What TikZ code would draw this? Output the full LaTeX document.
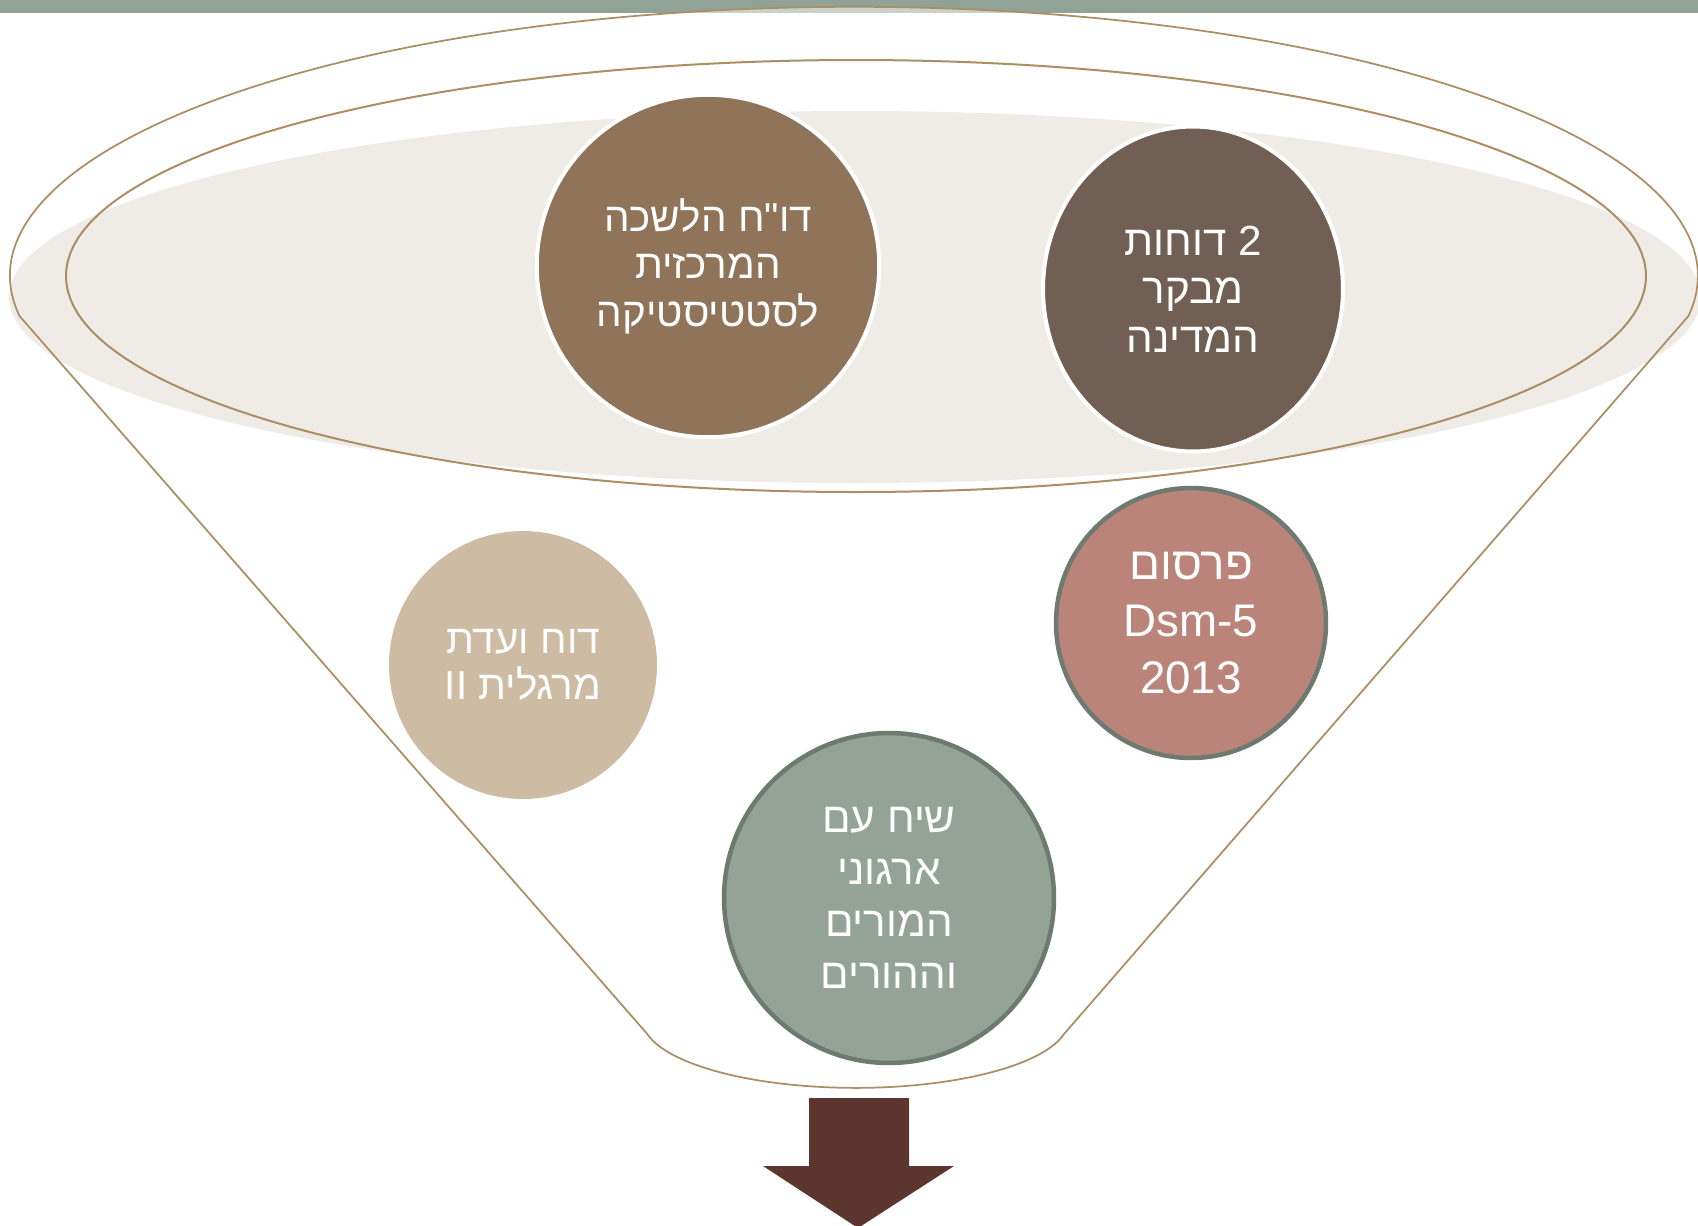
\documentclass[tikz,border=0pt]{standalone}
\usepackage{fontspec}
\setmainfont{Liberation Sans}
\newfontfamily\hebfont[Script=Hebrew]{Liberation Sans}
\TeXXeTstate=1
\usetikzlibrary{shapes.geometric}

\definecolor{barGreen}{HTML}{91A396}
\definecolor{funnelLine}{HTML}{AD8E64}
\definecolor{lipFill}{HTML}{EFECE7}
\definecolor{brownA}{HTML}{8F7459}
\definecolor{brownB}{HTML}{725F53}
\definecolor{rosePink}{HTML}{BA847A}
\definecolor{sandTan}{HTML}{CEBBA3}
\definecolor{sageGreen}{HTML}{93A398}
\definecolor{sageRim}{HTML}{6D7A6F}
\definecolor{arrowBrown}{HTML}{5C352F}

\begin{document}
\begin{tikzpicture}[x=0.02cm, y=0.02cm,
    bubble/.style={circle, inner sep=0pt, text=white, align=center},
    whiterim/.style={draw=white, line width=0.8mm},
    sagerim/.style={draw=sageRim, line width=0.9mm},
    lbl/.style 2 args={font=\hebfont\fontsize{#1}{#2}\selectfont}]
			%%%%% START %%%%%
			\useasboundingbox (0, 0) rectangle (1698, -1225);
			
			\fill[barGreen] (0, 0) rectangle (1698, -13);
			
			% funnel body
			\fill[white, fill opacity=0.5] (19.5, -316) arc[start angle=188.6, end angle=-8.6, x radius=844, y radius=269]
				-- (1064, -1034) arc[start angle=-12, end angle=-168, x radius=213, y radius=68] -- cycle;
			\fill[lipFill] (855, -297) ellipse (846 and 186);
			\draw[funnelLine, line width=0.35mm] (19.5, -316) arc[start angle=188.6, end angle=-8.6, x radius=844, y radius=269]
				-- (1064, -1034) arc[start angle=-12, end angle=-168, x radius=213, y radius=68] -- cycle;
			\draw[funnelLine, line width=0.4mm] (856, -276) ellipse (790 and 216);
			
			% circles
			\node[bubble, whiterim, fill=brownA, minimum size=6.85cm, lbl={23}{27}] (cbs) at (708, -266)
				{\beginR דו"ח הלשכה\endR\\\beginR המרכזית\endR\\\beginR לסטטיסטיקה\endR};
			\node[bubble, ellipse, whiterim, fill=brownB, minimum width=6.0cm, minimum height=6.5cm, lbl={24}{27.7}] (audit) at (1193, -289)
				{\beginR 2 דוחות\endR\\\beginR מבקר\endR\\\beginR המדינה\endR};
			\node[bubble, sagerim, fill=rosePink, minimum size=5.4cm, lbl={26}{32.4}] (dsm) at (1191, -623)
				{\beginR פרסום\endR\\Dsm-5\\2013};
			\node[bubble, fill=sandTan, minimum size=5.36cm, lbl={23}{26.5}] (margalit) at (523, -665)
				{\beginR דוח ועדת\endR\\\beginR מרגלית II\endR};
			\node[bubble, sagerim, fill=sageGreen, minimum size=6.6cm, lbl={24}{29.5}] (talk) at (889, -898)
				{\beginR שיח עם\endR\\\beginR ארגוני\endR\\\beginR המורים\endR\\\beginR וההורים\endR};
			
			% outlet arrow
			\fill[arrowBrown] (809, -1098) -- (909, -1098) -- (909, -1166) -- (954, -1166) -- (858, -1228)
				-- (763, -1166) -- (809, -1166) -- cycle;
			%%%%% END %%%%%
		\end{tikzpicture}
\end{document}
